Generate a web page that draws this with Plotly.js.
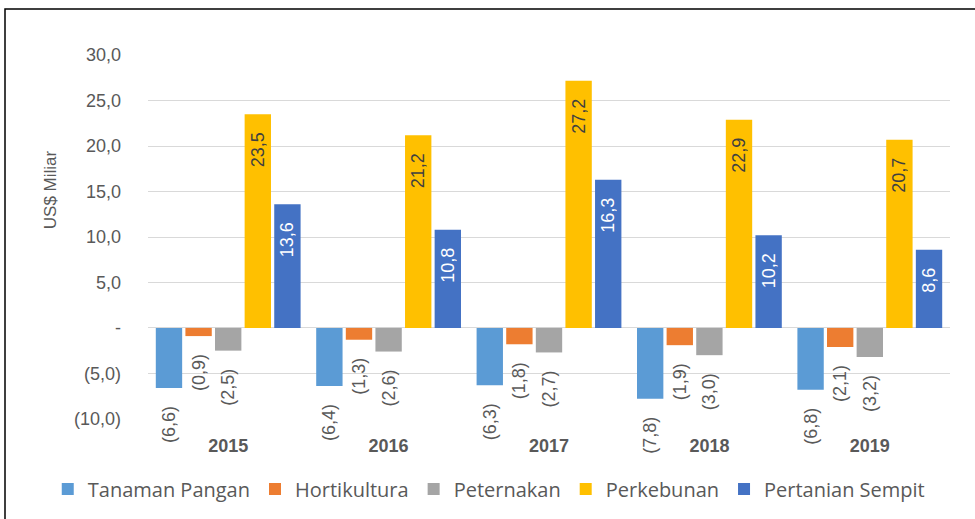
<!DOCTYPE html>
<html>
<head>
<meta charset="utf-8">
<script src="https://cdn.plot.ly/plotly-3.0.1.min.js"></script>
<style>
  html, body { margin: 0; padding: 0; background: #ffffff; }
  #chart { width: 975px; height: 519px; }
</style>
</head>
<body>
<div id="chart"></div>
<script>
// ---- Data ----
const years = ['2015', '2016', '2017', '2018', '2019'];
const seriesNames = ['Tanaman Pangan', 'Hortikultura', 'Peternakan', 'Perkebunan', 'Pertanian Sempit'];
const tanamanPangan = [-6.6, -6.4, -6.3, -7.8, -6.8];
const hortikultura = [-0.9, -1.3, -1.8, -1.9, -2.1];
const peternakan = [-2.5, -2.6, -2.7, -3.0, -3.2];
const perkebunan = [23.5, 21.2, 27.2, 22.9, 20.7];
const pertanianSempit = [13.6, 10.8, 16.3, 10.2, 8.6];
const yTickVals = [-10, -5, 0, 5, 10, 15, 20, 25, 30];
const yTickText = ['(10,0)', '(5,0)', '-', '5,0', '10,0', '15,0', '20,0', '25,0', '30,0'];
const yAxisTitle = 'US$ Miliar';

// ---- Styles ----
const colors = ['#5B9BD5', '#ED7D31', '#A5A5A5', '#FFC000', '#4472C4'];
const sansFont = '"Liberation Sans", Arial, sans-serif';
const gray = '#595959';
const pad = '\u00a0\u00a0\u00a0';

function fmt(v) {
  const s = Math.abs(v).toFixed(1).replace('.', ',');
  return (v < 0 ? '(' + s + ')' : s) + pad;
}

const allSeries = [tanamanPangan, hortikultura, peternakan, perkebunan, pertanianSempit];
const insideColors = [gray, gray, gray, '#404040', '#ffffff'];

const traces = allSeries.map((vals, i) => {
  const positive = vals[0] > 0;
  return {
    type: 'bar',
    name: seriesNames[i],
    x: years,
    y: vals,
    marker: { color: colors[i] },
    text: vals.map(fmt),
    textposition: positive ? 'inside' : 'outside',
    insidetextanchor: 'end',
    textangle: -90,
    constraintext: 'none',
    cliponaxis: false,
    textfont: { family: sansFont, size: 18, color: insideColors[i] },
    insidetextfont: { family: sansFont, size: 18, color: insideColors[i] },
    outsidetextfont: { family: sansFont, size: 18, color: gray },
    hoverinfo: 'x+y+name'
  };
});

const layout = {
  width: 975,
  height: 519,
  margin: { l: 148, r: 25, t: 55, b: 100, autoexpand: false },
  paper_bgcolor: '#ffffff',
  plot_bgcolor: '#ffffff',
  barmode: 'group',
  bargap: 0.077,
  bargroupgap: 0.11,
  showlegend: true,
  legend: {
    orientation: 'h',
    x: -0.125, xanchor: 'left',
    y: -0.192, yanchor: 'middle',
    bgcolor: 'rgba(0,0,0,0)',
    font: { family: '"Open Sans", sans-serif', size: 20, color: gray },
    traceorder: 'normal'
  },
  xaxis: {
    type: 'category',
    automargin: false,
    showgrid: false,
    showline: false,
    zeroline: false,
    ticks: '',
    ticklabelstandoff: 14,
    tickfont: { family: sansFont, size: 18, color: gray, weight: 'bold' }
  },
  yaxis: {
    range: [-10.02, 30.02],
    automargin: false,
    tickmode: 'array',
    tickvals: yTickVals,
    ticktext: yTickText,
    showgrid: true,
    gridcolor: '#D9D9D9',
    gridwidth: 1,
    zeroline: true,
    zerolinecolor: '#D9D9D9',
    zerolinewidth: 1,
    showline: false,
    ticks: '',
    ticklabelstandoff: 26,
    tickfont: { family: sansFont, size: 18, color: gray }
  },
  annotations: [{
    text: yAxisTitle,
    xref: 'paper', yref: 'paper',
    x: -0.122, y: 0.629,
    xanchor: 'center', yanchor: 'middle',
    textangle: -90,
    showarrow: false,
    font: { family: sansFont, size: 17, color: gray }
  }],
  shapes: [{
    type: 'rect',
    xref: 'paper', yref: 'paper',
    x0: -0.1783, x1: 1.1, y0: -0.35, y1: 1.1264,
    line: { color: '#000000', width: 1.5 },
    fillcolor: 'rgba(0,0,0,0)',
    layer: 'below'
  }]
};

Plotly.newPlot('chart', traces, layout, { displayModeBar: false, staticPlot: true });
</script>
</body>
</html>
